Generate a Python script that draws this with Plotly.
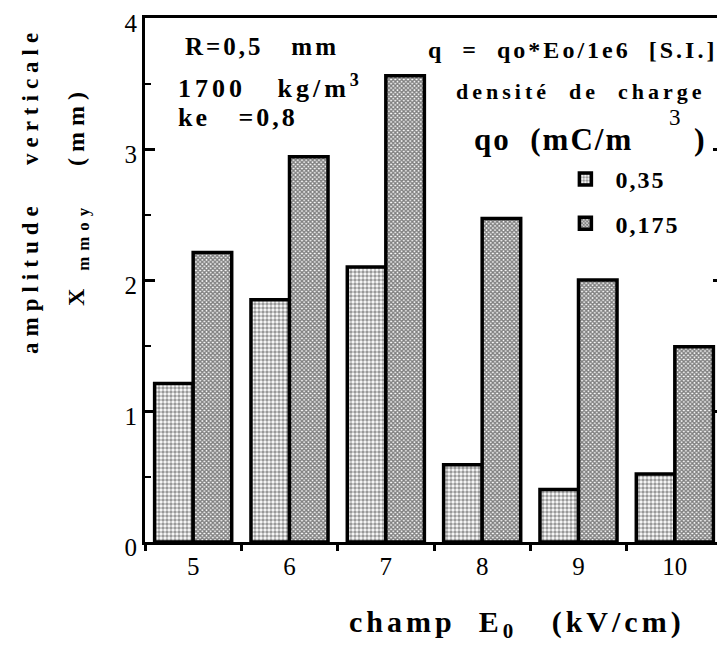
import plotly.graph_objects as go

# ---- data ----
champ_labels = ["5", "6", "7", "8", "9", "10"]
amp_q035 = [1.21, 1.85, 2.10, 0.59, 0.40, 0.52]
amp_q0175 = [2.21, 2.94, 3.56, 2.47, 2.00, 1.49]
series_names = ["0,35", "0,175"]
y_tick_vals = [0, 1, 2, 3, 4]

FONT = "Liberation Serif"

def ls(text, px):
    return f'<span style="letter-spacing:{px}px">{text}</span>'

fig = go.Figure()
fig.add_trace(go.Bar(
    x=champ_labels, y=amp_q035, name=ls(series_names[0], 2), legendgroup="a",
    marker=dict(color="white", line=dict(color="black", width=3.5),
                pattern=dict(shape=".", fgcolor="#333", bgcolor="white", size=4, solidity=0.6)),
))
fig.add_trace(go.Bar(
    x=champ_labels, y=amp_q0175, name=ls(series_names[1], 2), legendgroup="b",
    marker=dict(color="white", line=dict(color="black", width=3.5),
                pattern=dict(shape="x", fgcolor="#000", bgcolor="white", size=3, solidity=0.7)),
))

# page body adds an 8px offset: figure is 717x642 so the plot area lands at
# x 145..723, y 18..542 of the 725x650 window
fig.update_layout(
    width=717, height=642,
    margin=dict(l=137, r=2, t=10, b=108, autoexpand=False),
    paper_bgcolor="white", plot_bgcolor="white",
    barmode="group", bargap=0.2, bargroupgap=0,
    font=dict(family=FONT, color="black", size=24),
    showlegend=True,
    legend=dict(x=0.71, y=0.735, xanchor="left", yanchor="top", itemwidth=50,
                bgcolor="rgba(0,0,0,0)", font=dict(size=24, weight="bold"),
                tracegroupgap=10, traceorder="grouped"),
)

fig.update_xaxes(
    type="category", showline=True, linewidth=3, linecolor="black", mirror=True,
    ticks="outside", tickson="boundaries", ticklen=6, tickwidth=3, tickcolor="black",
    tickfont=dict(size=25), showgrid=False, zeroline=False, automargin=False,
    ticklabeloverflow="allow",
)
fig.update_yaxes(
    range=[0, 4], tickvals=y_tick_vals, showline=True, linewidth=3, linecolor="black",
    mirror="ticks", ticks="inside", ticklen=10, tickwidth=3, tickcolor="black",
    minor=dict(ticks="inside", dtick=0.5, ticklen=6, tickwidth=2, tickcolor="black"),
    tickfont=dict(size=25), showgrid=False, zeroline=False, automargin=False,
    ticklabeloverflow="allow", ticklabelshift=5,
)

ann = []
def add(text, x, y, size, xanchor="left", angle=0, bold=True, xref="paper", yref="paper"):
    ann.append(dict(text=text, x=x, y=y, xref=xref, yref=yref, xanchor=xanchor,
                    yanchor="middle", showarrow=False, textangle=angle,
                    font=dict(size=size, family=FONT, weight="bold" if bold else "normal")))

W, H0, PH = 578.0, 542.0, 524.0
px = lambda X: (X - 145) / W
py = lambda Y: (H0 - Y) / PH

add(ls("R=0,5\u00a0\u00a0\u00a0mm", 3), px(183), py(47), 25)
add(ls("1700\u00a0\u00a0\u00a0kg/m<sup>3</sup>", 4), px(176), py(86), 26)
add(ls("ke\u00a0\u00a0\u00a0=0,8", 3), px(176), py(117), 26)
add(ls("q\u00a0\u00a0=\u00a0\u00a0qo*Eo/1e6\u00a0\u00a0[S.I.]", 3), px(426), py(50), 24)
add(ls("densité\u00a0\u00a0de\u00a0\u00a0charge", 4), px(454), py(92), 22)
add(ls("qo\u00a0\u00a0(mC/m", 2), px(472), py(139), 31)
add("3", px(667), py(117), 23, bold=False)
add(")", px(692), py(139), 32)

add(ls("amplitude\u00a0\u00a0\u00a0verticale", 6), px(31), py(191), 23, xanchor="center", angle=-90)
add(ls("X\u00a0<sub>mmoy</sub>\u00a0\u00a0\u00a0(mm)", 6), px(78), py(196), 24, xanchor="center", angle=-90)
add(ls("champ\u00a0\u00a0E<sub>0</sub>\u00a0\u00a0\u00a0(kV/cm)", 4), px(517), py(624), 30, xanchor="center")

fig.update_layout(annotations=ann)
fig.write_html("out.html")
